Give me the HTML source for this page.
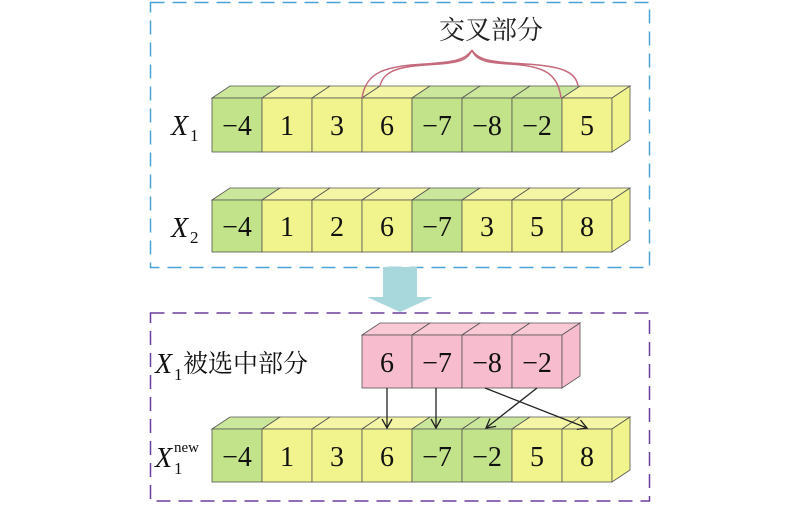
<!DOCTYPE html>
<html><head><meta charset="utf-8"><style>body{margin:0;background:#fff}svg{display:block}
.g{fill:#c2e38a}.gt{fill:#cbe79c}.y{fill:#f1f38c}.yt{fill:#f4f6a6}.p{fill:#f7bccd}.pt{fill:#f9c9d6}
.c polygon,.c rect{stroke:#555;stroke-width:0.8}
.c text{font-size:28px;fill:#111;text-anchor:middle}
</style></head><body>
<svg width="800" height="515" viewBox="0 0 800 515" xmlns="http://www.w3.org/2000/svg" font-family="Liberation Serif, 'Noto Serif CJK SC', serif">
<defs>
<marker id="ah" markerWidth="12" markerHeight="12" refX="10" refY="6" orient="auto" markerUnits="userSpaceOnUse"><path d="M1,1 L10,6 L1,11" fill="none" stroke="#222" stroke-width="1.3"/></marker>
</defs>
<rect x="150.5" y="2.5" width="499" height="265" fill="none" stroke="#4aa3d6" stroke-width="1.5" stroke-dasharray="14,8"/>
<rect x="150.5" y="313" width="499" height="188" fill="none" stroke="#6b3f9e" stroke-width="1.5" stroke-dasharray="14,8"/>
<polygon points="383,267 417,267 417,297 433,297 400,312 367,297 383,297" fill="#a9d8dc"/>

<g class="c">
<polygon class="gt" points="212,98 230,86 280,86 262,98"/><rect class="g" x="212" y="98" width="50" height="54"/><text x="237" y="135">−4</text>
<polygon class="yt" points="262,98 280,86 330,86 312,98"/><rect class="y" x="262" y="98" width="50" height="54"/><text x="287" y="135">1</text>
<polygon class="yt" points="312,98 330,86 380,86 362,98"/><rect class="y" x="312" y="98" width="50" height="54"/><text x="337" y="135">3</text>
<polygon class="yt" points="362,98 380,86 430,86 412,98"/><rect class="y" x="362" y="98" width="50" height="54"/><text x="387" y="135">6</text>
<polygon class="gt" points="412,98 430,86 480,86 462,98"/><rect class="g" x="412" y="98" width="50" height="54"/><text x="437" y="135">−7</text>
<polygon class="gt" points="462,98 480,86 530,86 512,98"/><rect class="g" x="462" y="98" width="50" height="54"/><text x="487" y="135">−8</text>
<polygon class="gt" points="512,98 530,86 580,86 562,98"/><rect class="g" x="512" y="98" width="50" height="54"/><text x="537" y="135">−2</text>
<polygon class="yt" points="562,98 580,86 630,86 612,98"/><rect class="y" x="562" y="98" width="50" height="54"/><text x="587" y="135">5</text>
<polygon class="y" points="612,98 630,86 630,140 612,152"/>
<polygon class="gt" points="212,200 230,188 280,188 262,200"/><rect class="g" x="212" y="200" width="50" height="52"/><text x="237" y="236">−4</text>
<polygon class="yt" points="262,200 280,188 330,188 312,200"/><rect class="y" x="262" y="200" width="50" height="52"/><text x="287" y="236">1</text>
<polygon class="yt" points="312,200 330,188 380,188 362,200"/><rect class="y" x="312" y="200" width="50" height="52"/><text x="337" y="236">2</text>
<polygon class="yt" points="362,200 380,188 430,188 412,200"/><rect class="y" x="362" y="200" width="50" height="52"/><text x="387" y="236">6</text>
<polygon class="gt" points="412,200 430,188 480,188 462,200"/><rect class="g" x="412" y="200" width="50" height="52"/><text x="437" y="236">−7</text>
<polygon class="yt" points="462,200 480,188 530,188 512,200"/><rect class="y" x="462" y="200" width="50" height="52"/><text x="487" y="236">3</text>
<polygon class="yt" points="512,200 530,188 580,188 562,200"/><rect class="y" x="512" y="200" width="50" height="52"/><text x="537" y="236">5</text>
<polygon class="yt" points="562,200 580,188 630,188 612,200"/><rect class="y" x="562" y="200" width="50" height="52"/><text x="587" y="236">8</text>
<polygon class="y" points="612,200 630,188 630,240 612,252"/>
<polygon class="pt" points="362,335 380,323 430,323 412,335"/><rect class="p" x="362" y="335" width="50" height="53"/><text x="387" y="372">6</text>
<polygon class="pt" points="412,335 430,323 480,323 462,335"/><rect class="p" x="412" y="335" width="50" height="53"/><text x="437" y="372">−7</text>
<polygon class="pt" points="462,335 480,323 530,323 512,335"/><rect class="p" x="462" y="335" width="50" height="53"/><text x="487" y="372">−8</text>
<polygon class="pt" points="512,335 530,323 580,323 562,335"/><rect class="p" x="512" y="335" width="50" height="53"/><text x="537" y="372">−2</text>
<polygon class="p" points="562,335 580,323 580,376 562,388"/>
<polygon class="gt" points="212,429 230,417 280,417 262,429"/><rect class="g" x="212" y="429" width="50" height="53"/><text x="237" y="466">−4</text>
<polygon class="yt" points="262,429 280,417 330,417 312,429"/><rect class="y" x="262" y="429" width="50" height="53"/><text x="287" y="466">1</text>
<polygon class="yt" points="312,429 330,417 380,417 362,429"/><rect class="y" x="312" y="429" width="50" height="53"/><text x="337" y="466">3</text>
<polygon class="yt" points="362,429 380,417 430,417 412,429"/><rect class="y" x="362" y="429" width="50" height="53"/><text x="387" y="466">6</text>
<polygon class="gt" points="412,429 430,417 480,417 462,429"/><rect class="g" x="412" y="429" width="50" height="53"/><text x="437" y="466">−7</text>
<polygon class="gt" points="462,429 480,417 530,417 512,429"/><rect class="g" x="462" y="429" width="50" height="53"/><text x="487" y="466">−2</text>
<polygon class="yt" points="512,429 530,417 580,417 562,429"/><rect class="y" x="512" y="429" width="50" height="53"/><text x="537" y="466">5</text>
<polygon class="yt" points="562,429 580,417 630,417 612,429"/><rect class="y" x="562" y="429" width="50" height="53"/><text x="587" y="466">8</text>
<polygon class="y" points="612,429 630,417 630,470 612,482"/>
</g>

<path d="M362,98 C366,72 385,66 425,64 C455,62 465,60 472,50 M472,50 C478,60 490,62 525,64 C562,66 576,72 578,86 M380,86 C384,68 405,66 440,64 C460,62 468,60 472,50 M472,50 C476,62 492,63 510,64 C545,66 558,74 561,98" fill="none" stroke="#c56a7c" stroke-width="1.5"/>
<text x="491" y="39" font-size="26" text-anchor="middle" font-family="'Noto Serif CJK SC',serif" fill="#222">交叉部分</text>
<g font-size="28" fill="#111">
<text x="171" y="135" font-style="italic">X</text><text x="190" y="141" font-size="17">1</text>
<text x="171" y="237" font-style="italic">X</text><text x="190" y="243" font-size="17">2</text>
<text x="155" y="373" font-style="italic">X</text><text x="174" y="380" font-size="17">1</text>
<text x="183" y="372" font-size="25" font-family="'Noto Serif CJK SC',serif">被选中部分</text>
<text x="155" y="467" font-style="italic">X</text><text x="174" y="474" font-size="17">1</text><text x="174" y="452" font-size="15">new</text>
</g>
<g stroke="#222" stroke-width="1.3" marker-end="url(#ah)">
<line x1="387" y1="388" x2="387" y2="428"/>
<line x1="436" y1="388" x2="436" y2="428"/>
<line x1="537" y1="388" x2="486" y2="428"/>
<line x1="485" y1="388" x2="587" y2="428"/>
</g>
</svg>
</body></html>
